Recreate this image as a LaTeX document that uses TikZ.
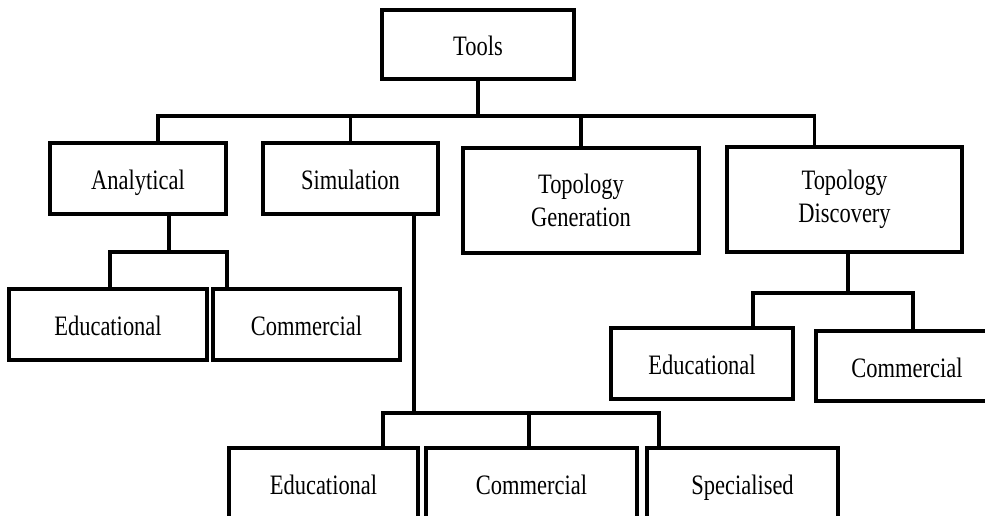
\documentclass[tikz,border=0pt]{standalone}
\usepackage{fontspec}
\newfontfamily\boxfont[FakeStretch=0.8]{Liberation Serif}
\usetikzlibrary{calc}

\tikzset{
  box/.style={draw,line width=2.1pt,align=center,inner sep=0pt,
    font=\boxfont\fontsize{16}{19}\selectfont},
  onebox/.style={box,text height=13pt,text depth=0pt},
  link/.style={line width=2.1pt},
}

\begin{document}
\begin{tikzpicture}[x=0.02cm,y=-0.02cm]
  \useasboundingbox (0,0) rectangle (985,516);
  \clip (0,0) rectangle (985,516);

  \node[onebox,minimum width=3.84cm,minimum height=1.38cm] (tools) at (478,44.5) {Tools};

  \node[onebox,minimum width=3.52cm,minimum height=1.42cm] (anal) at (138,178.5) {Analytical};
  \node[onebox,minimum width=3.5cm,minimum height=1.42cm] (sim) at (350.5,178.5) {Simulation};
  \node[box,minimum width=4.72cm,minimum height=2.1cm] (tgen) at (581,200.5) {Topology\\Generation};
  \node[box,minimum width=4.7cm,minimum height=2.1cm] (tdisc) at (844.5,199.5) {Topology\\Discovery};

  \node[onebox,minimum width=3.96cm,minimum height=1.42cm] (aedu) at (108,324.5) {Educational};
  \node[onebox,minimum width=3.74cm,minimum height=1.42cm] (acom) at (306.5,324.5) {Commercial};

  \node[onebox,minimum width=3.64cm,minimum height=1.42cm] (tedu) at (702,363.5) {Educational};
  \node[onebox,minimum width=3.64cm,minimum height=1.4cm] (tcom) at (907,366) {Commercial};

  \node[onebox,minimum width=3.78cm,minimum height=1.42cm] (sedu) at (323.5,483.5) {Educational};
  \node[onebox,minimum width=4.22cm,minimum height=1.42cm] (scom) at (531.5,483.5) {Commercial};
  \node[onebox,minimum width=3.82cm,minimum height=1.42cm] (spec) at (742.5,483.5) {Specialised};

  % connectors
  \foreach \child/\dx in {anal/0.4cm,sim/0cm,tgen/0cm,tdisc/-0.6cm}
    \draw[link] (tools.south) -- ++(0,35) -| ([xshift=\dx]\child.north);
  \foreach \child/\dx in {aedu/0.04cm,acom/-1.59cm}
    \draw[link] ([xshift=0.62cm]anal.south) -- ++(0,36) -| ([xshift=\dx]\child.north);
  \foreach \child/\dx in {sedu/1.19cm,scom/-0.05cm,spec/-1.67cm}
    \draw[link] ([xshift=1.27cm]sim.south) -- ++(0,197) -| ([xshift=\dx]\child.north);
  \foreach \child/\dx in {tedu/1.02cm,tcom/0.12cm}
    \draw[link] ([xshift=0.07cm]tdisc.south) -- ++(0,39) -| ([xshift=\dx]\child.north);
\end{tikzpicture}
\end{document}
